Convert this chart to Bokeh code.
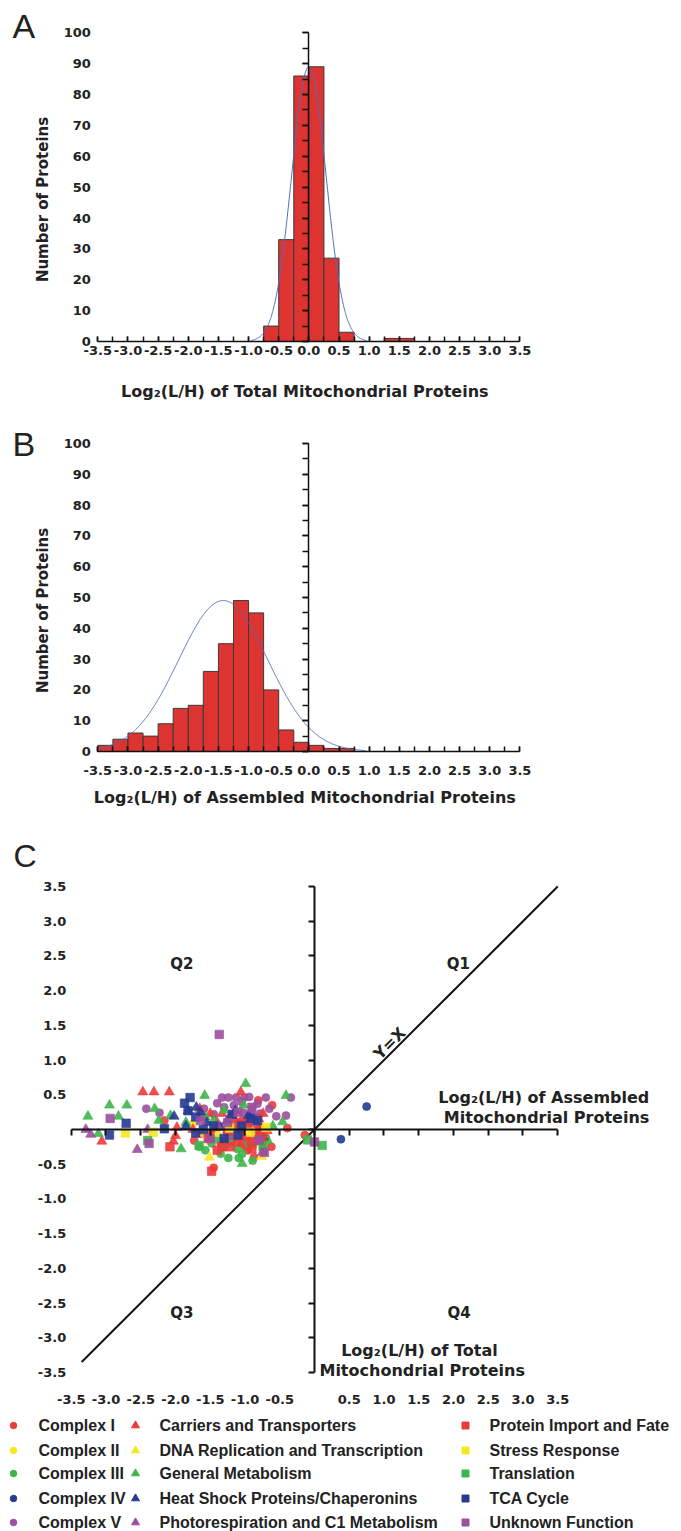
import numpy as np
from bokeh.plotting import figure
from bokeh.models import (LinearAxis, SingleIntervalTicker, Range1d, PrintfTickFormatter)
from bokeh.layouts import column
from bokeh.embed import file_html
from bokeh.resources import INLINE
from bokeh.core.properties import value

# ---------------- data ----------------
bin_width = 0.25
a_bin_left = [-0.75, -0.5, -0.25, 0.0, 0.25, 0.5, 0.75, 1.0, 1.25, 1.5]
a_counts = [5, 33, 86, 89, 27, 3, 0, 0, 1, 1]
a_fit_mean, a_fit_sd, a_fit_peak = 0.0, 0.285, 89.0

b_bin_left = [-3.5, -3.25, -3.0, -2.75, -2.5, -2.25, -2.0, -1.75, -1.5,
              -1.25, -1.0, -0.75, -0.5, -0.25, 0.0, 0.25, 0.5]
b_counts = [2, 4, 6, 5, 9, 14, 15, 26, 35, 49, 45, 20, 7, 3, 2, 1, 1]
b_fit_mean, b_fit_sd, b_fit_peak = -1.42, 0.74, 49.0

hist_y_ticks = [0, 10, 20, 30, 40, 50, 60, 70, 80, 90, 100]
hist_y_labels = ["0", "10", "20", "30", "40", "50", "60", "70", "80", "90", "100"]
c_y_ticks = [3.5, 3.0, 2.5, 2.0, 1.5, 1.0, 0.5, -0.5, -1.0, -1.5, -2.0, -2.5, -3.0, -3.5]
c_y_labels = ["3.5", "3.0", "2.5", "2.0", "1.5", "1.0", "0.5", "-0.5", "-1.0", "-1.5",
              "-2.0", "-2.5", "-3.0", "-3.5"]

# scatter (x = assembled, y = total)
complex_I_x = [-2.16, -1.73, -1.31, -0.81, -0.61, -0.39, -0.14, -0.96, -0.86, -0.62, -1.45, -1.16, -1.04,
               -0.78, -1.42, -0.97, -0.80, -1.21, -0.87, -1.64, -1.10, -0.70, -1.00, -1.26, -0.92,
               -1.35, -0.95, -1.50, -0.85, -1.05, -0.75]
complex_I_y = [0.13, -0.16, -0.16, 0.42, 0.35, 0.02, -0.08, -0.30, -0.18, -0.25, -0.55, 0.00, 0.13,
               0.03, 0.01, -0.13, -0.09, -0.18, -0.40, -0.06, 0.10, -0.12, -0.24, -0.05, 0.18,
               -0.20, 0.05, -0.05, -0.05, -0.20, -0.20]
complex_II_x = [-1.75]
complex_II_y = [0.08]
complex_III_x = [-1.57, -1.24, -1.09, -0.89, -1.11, -1.40, -1.04, -0.73, -1.66, -1.16, -1.30, -1.48,
                 -0.95, -1.35]
complex_III_y = [-0.30, -0.41, -0.41, -0.45, -0.28, -0.13, -0.35, -0.30, -0.25, -0.13, -0.25, -0.20,
                 -0.20, -0.35]
complex_IV_x = [0.75, 0.38, -1.05]
complex_IV_y = [0.33, -0.14, -0.02]
complex_V_x = [-2.42, -2.23, -1.59, -1.33, -1.24, -1.13, -1.01, -0.94, -0.70, -1.16, -0.82, -0.55, -0.41,
               -0.34, -1.30, -1.02, -1.64, -0.78, -0.90, -1.45, -1.20, -1.05, -0.65, -1.40, -0.88]
complex_V_y = [0.30, 0.24, 0.30, 0.46, 0.46, 0.46, 0.46, 0.47, 0.46, 0.35, 0.37, 0.19, 0.20,
               0.46, 0.32, 0.24, 0.18, 0.23, 0.30, 0.22, 0.20, 0.40, 0.30, 0.38, 0.20]
carriers_x = [-2.47, -2.31, -2.09, -1.06, -3.06, -2.00, -2.03, -1.50, -1.33, -0.74, -1.04, -1.98, -0.94,
              -1.20, -1.65, -1.40, -0.80, -1.75, -0.68, -1.15]
carriers_y = [0.54, 0.54, 0.54, 0.54, -0.17, -0.09, -0.17, 0.23, 0.23, 0.23, -0.06, 0.03, 0.11,
              0.08, 0.30, 0.10, 0.15, 0.00, -0.02, 0.15]
dna_x = [-1.51, -0.76, -1.62, -1.39]
dna_y = [-0.40, -0.39, -0.06, -0.06]
general_x = [-3.26, -2.95, -2.70, -2.82, -3.11, -1.58, -0.99, -0.41, -1.92, -2.24, -2.07, -1.04, -1.57,
             -1.02, -0.46, -0.67, -1.45, -1.25, -1.85, -0.90, -1.30, -2.30, -0.60]
general_y = [0.19, 0.35, 0.35, 0.19, -0.06, 0.49, 0.66, 0.49, -0.28, 0.13, 0.20, -0.49, 0.18,
             0.35, 0.11, -0.16, 0.13, -0.20, 0.10, -0.22, 0.28, 0.30, 0.05]
heat_x = [-1.82, -2.02, -1.64, -1.14, -1.26, -0.74, -1.35, -1.70, -1.55, -0.95, -1.85]
heat_y = [0.27, 0.19, 0.25, 0.27, 0.12, -0.11, 0.03, 0.32, 0.10, 0.20, 0.05]
photo_x = [-3.29, -3.22, -2.55, -2.40, -0.75, -1.40, -1.20, -0.85]
photo_y = [0.00, -0.07, -0.29, 0.00, -0.33, 0.05, -0.10, 0.10]
import_x = [-2.08, -1.53, -1.33, -1.48, -1.06, -0.92, -1.21, -0.97, -0.82, -1.11, -0.90, -1.40, -0.75, -1.25]
import_y = [-0.25, -0.13, -0.25, -0.60, -0.09, -0.16, -0.25, 0.08, -0.01, -0.18, -0.28, -0.30, -0.10, -0.02]
stress_x = [-2.72, -2.32, -1.22, -0.92, -0.70]
stress_y = [-0.05, -0.04, 0.02, -0.04, 0.03]
transl_x = [-2.40, -1.66, -0.10, 0.11, -0.74]
transl_y = [-0.16, -0.23, -0.15, -0.23, -0.25]
tca_x = [-2.95, -2.71, -2.16, -1.87, -1.79, -1.82, -1.71, -1.71, -1.30, -1.18, -0.92, -0.82, -1.05,
         -1.45, -1.10, -1.60]
tca_y = [-0.08, 0.09, 0.01, 0.38, 0.46, 0.27, 0.18, -0.05, -0.13, 0.22, 0.16, 0.13, 0.05,
         0.05, -0.08, 0.00]
unknown_x = [-1.37, -2.94, -2.38, -1.50, 0.00, -0.72, -1.64, -0.90, -1.10, -0.80, -1.25]
unknown_y = [1.37, 0.16, -0.20, -0.13, -0.18, -0.33, 0.13, 0.32, 0.25, -0.15, 0.10]

RED, YEL, GRN, BLU, PUR = "#ec3b3b", "#f3e923", "#3db54a", "#263b94", "#9c4f9d"

categories = [
    ("Complex I", "circle", RED, complex_I_x, complex_I_y),
    ("Complex II", "circle", YEL, complex_II_x, complex_II_y),
    ("Complex III", "circle", GRN, complex_III_x, complex_III_y),
    ("Complex IV", "circle", BLU, complex_IV_x, complex_IV_y),
    ("Complex V", "circle", PUR, complex_V_x, complex_V_y),
    ("Carriers and Transporters", "triangle", RED, carriers_x, carriers_y),
    ("DNA Replication and Transcription", "triangle", YEL, dna_x, dna_y),
    ("General Metabolism", "triangle", GRN, general_x, general_y),
    ("Heat Shock Proteins/Chaperonins", "triangle", BLU, heat_x, heat_y),
    ("Photorespiration and C1 Metabolism", "triangle", PUR, photo_x, photo_y),
    ("Protein Import and Fate", "square", RED, import_x, import_y),
    ("Stress Response", "square", YEL, stress_x, stress_y),
    ("Translation", "square", GRN, transl_x, transl_y),
    ("TCA Cycle", "square", BLU, tca_x, tca_y),
    ("Unknown Function", "square", PUR, unknown_x, unknown_y),
]

identity_span = [-3.35, 3.5]
quad_text = ["Q1", "Q2", "Q3", "Q4"]
quad_x = [2.07, -1.91, -1.91, 2.08]
quad_y = [2.39, 2.39, -2.65, -2.65]

F = "DejaVu Sans"
INK = "#111111"
TXT = "#222222"
W = 681
PAD = "\u00a0" * 13   # trailing no-break spaces: centre the axis title over the axis, not the frame


def hidden_tick_axis(width, bounds, interval, minor, tick_len=6):
    ax = LinearAxis(fixed_location=0, bounds=bounds,
                    ticker=SingleIntervalTicker(interval=interval, num_minor_ticks=minor))
    ax.axis_line_color = INK
    ax.axis_line_width = width
    ax.major_tick_line_color = INK
    ax.minor_tick_line_color = INK
    ax.major_tick_line_width = width
    ax.minor_tick_line_width = width
    ax.major_tick_in = tick_len
    ax.major_tick_out = 0
    ax.minor_tick_in = tick_len
    ax.minor_tick_out = 0
    ax.major_label_text_font_size = "0px"
    ax.major_label_text_color = None
    ax.major_label_standoff = 0
    return ax


def label_axis(interval, overrides, standoff):
    ax = LinearAxis(bounds=(-3.5, 3.5), ticker=SingleIntervalTicker(interval=interval),
                    formatter=PrintfTickFormatter(format="%.1f"))
    ax.major_label_overrides = overrides
    ax.axis_line_color = None
    ax.major_tick_line_color = None
    ax.minor_tick_line_color = None
    ax.major_label_standoff = standoff
    ax.major_label_text_font = F
    ax.major_label_text_font_style = "bold"
    ax.major_label_text_font_size = "13px"
    ax.major_label_text_color = TXT
    return ax


def hist_fig(bin_left, counts, mean, sd, peak, title, letter, letter_y, ylab_y,
             height, y_top, y_bottom, bottom, tick_standoff, title_standoff):
    p = figure(width=W, height=height, x_range=Range1d(-5.114, 6.180), y_range=Range1d(y_bottom, y_top),
               output_backend="svg", toolbar_location=None,
               x_axis_location=None, y_axis_location=None,
               min_border_left=0, min_border_right=0, min_border_top=0, min_border_bottom=bottom)
    p.grid.grid_line_color = None
    p.outline_line_color = None
    left = np.array(bin_left)
    p.quad(left=left, right=left + bin_width, bottom=0, top=np.array(counts),
           fill_color="#de3431", line_color="#3a3a3a", line_width=1)
    xs = np.linspace(-3.5, 3.5, 1401)
    ys = peak * np.exp(-0.5 * ((xs - mean) / sd) ** 2)
    m = ys > 0.3
    p.line(xs[m], ys[m], line_color="#4f6cb8", line_width=1)

    xl = label_axis(0.5, {0: "0.0"}, tick_standoff)
    xl.axis_label = title + PAD
    xl.axis_label_text_font = F
    xl.axis_label_text_font_style = "bold"
    xl.axis_label_text_font_size = "16px"
    xl.axis_label_text_color = TXT
    xl.axis_label_standoff = title_standoff
    p.add_layout(xl, "below")
    p.add_layout(hidden_tick_axis(1.5, (-3.5, 3.5), 0.5, 2, 5), "below")
    p.add_layout(hidden_tick_axis(1.5, (0, 100), 10, 2), "right")

    p.text(x=[-3.5] * len(hist_y_ticks), y=hist_y_ticks, text=hist_y_labels, x_offset=-7,
           text_font=value(F), text_font_style="bold", text_font_size="13px",
           text_align="right", text_baseline="middle", text_color=TXT)
    p.text(x=[-4.417], y=[ylab_y], text=["Number of Proteins"], angle=np.pi / 2,
           text_font=value(F), text_font_style="bold", text_font_size="15px",
           text_align="center", text_baseline="middle", text_color=TXT)
    p.text(x=[-4.915], y=[letter_y], text=[letter], text_font=value("Liberation Sans"),
           text_font_size="34px", text_baseline="middle", text_color=TXT)
    return p


# A: page 0-410, y=0 at 341, 3.087 px/unit, frame bottom 346
pA = hist_fig(a_bin_left, a_counts, a_fit_mean, a_fit_sd, a_fit_peak,
              "Log\u2082(L/H) of Total Mitochondrial Proteins", "A", 102.2, 46.0,
              410, 110.46, -1.62, 64, -7, 24)
# B: page 410-830, y=0 at 751, 3.08 px/unit, frame bottom 756
pB = hist_fig(b_bin_left, b_counts, b_fit_mean, b_fit_sd, b_fit_peak,
              "Log\u2082(L/H) of Assembled Mitochondrial Proteins", "B", 99.8, 45.8,
              420, 110.7, -1.62, 74, 3, 10)

# ---------------- panel C (page 830-1410) ----------------
pC = figure(width=W, height=580, x_range=Range1d(-4.518, 5.281), y_range=Range1d(-3.602, 4.308),
            output_backend="svg", toolbar_location=None,
            x_axis_location=None, y_axis_location=None,
            min_border_left=0, min_border_right=0, min_border_top=0, min_border_bottom=31)
pC.grid.grid_line_color = None
pC.outline_line_color = None

pC.add_layout(label_axis(0.5, {0: ""}, 9), "below")
pC.add_layout(hidden_tick_axis(2, (-3.5, 3.5), 0.5, 0), "above")
pC.add_layout(hidden_tick_axis(2, (-3.5, 3.5), 0.5, 0), "right")

pC.text(x=[-3.5] * len(c_y_ticks), y=c_y_ticks, text=c_y_labels, x_offset=-5,
        text_font=value(F), text_font_style="bold", text_font_size="13px",
        text_align="right", text_baseline="middle", text_color=TXT)

pC.line(identity_span, identity_span, line_color=INK, line_width=2)

marker_size = {"circle": 8, "triangle": 10, "square": 8.5}
for name, marker, color, xs, ys in categories:
    pC.scatter(xs, ys, marker=marker, size=marker_size[marker], fill_color=color,
               line_color=color, line_alpha=0.6, fill_alpha=0.9)

pC.text(x=quad_x, y=quad_y, text=quad_text, text_font=value(F), text_font_style="bold",
        text_font_size="15px", text_align="center", text_baseline="middle", text_color=TXT)

txt = dict(text_font=value(F), text_font_style="bold", text_font_size="16px",
           text_align="center", text_baseline="middle", text_color=TXT)
pC.text(x=[1.08], y=[1.24], text=["Y=X"], angle=np.pi / 4, **txt)
pC.text(x=[3.34, 3.34], y=[0.46, 0.17],
        text=["Log\u2082(L/H) of  Assembled", "Mitochondrial Proteins"], **txt)
pC.text(x=[1.55, 1.55], y=[-3.18, -3.47],
        text=["Log\u2082(L/H) of  Total", "Mitochondrial Proteins"], **txt)
pC.text(x=[-4.331], y=[3.934], text=["C"], text_font=value("Liberation Sans"),
        text_font_size="32px", text_baseline="middle", text_color=TXT)

# ---------------- legend (page 1410-1531) ----------------
LH = 121
lg = figure(width=W, height=LH, x_range=Range1d(0, W), y_range=Range1d(LH, 0),
            output_backend="svg", toolbar_location=None, min_border=0,
            x_axis_location=None, y_axis_location=None)
lg.grid.grid_line_color = None
lg.outline_line_color = None

col_marker_x = [13, 135, 465]
col_text_x = [38, 159, 489]
row_y = [15, 40, 63, 88, 112]
leg_size = {"circle": 6.5, "triangle": 8, "square": 7}
for i, (name, marker, color, _, _) in enumerate(categories):
    c, r = divmod(i, 5)
    lg.scatter([col_marker_x[c]], [row_y[r]], marker=marker, size=leg_size[marker],
               fill_color=color, line_color=color)
    lg.text(x=[col_text_x[c]], y=[row_y[r]], text=[name], text_font=value("Liberation Sans"),
            text_font_style="bold", text_font_size="16px", text_baseline="middle",
            text_color=TXT)

layout = column(pA, pB, pC, lg, spacing=0)
open("out.html", "w").write(file_html(layout, INLINE))
